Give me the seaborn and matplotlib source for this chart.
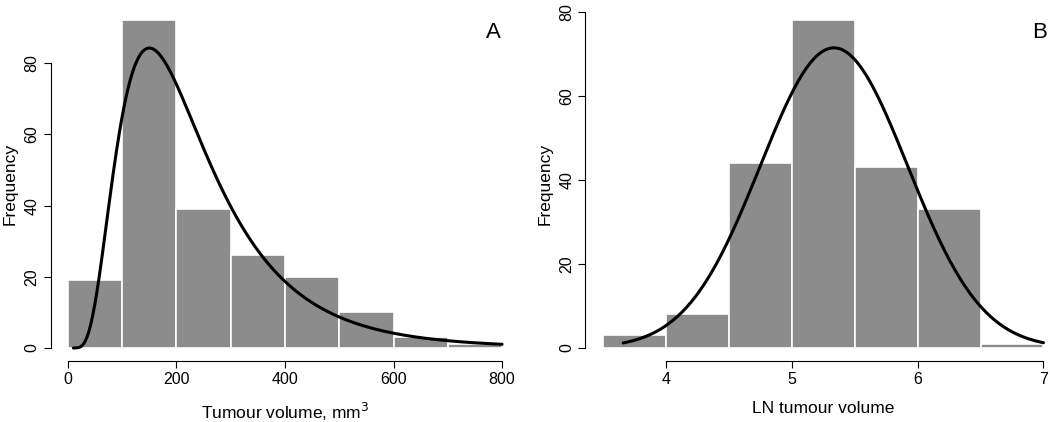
import numpy as np
import seaborn as sns
import matplotlib.pyplot as plt

sns.set_style("white")
plt.rcParams['font.family'] = ['Liberation Sans', 'DejaVu Sans']
plt.rcParams['text.color'] = 'black'
plt.rcParams['axes.labelcolor'] = 'black'
plt.rcParams['xtick.color'] = 'black'
plt.rcParams['ytick.color'] = 'black'

###Panel A: tumour volume (mm3)
vol_edges = [0, 100, 200, 300, 400, 500, 600, 700, 800]
vol_counts = [19, 92, 39, 26, 20, 10, 3, 1]
vol_ticks = [0, 200, 400, 600, 800]
vol_yticks = [0, 20, 40, 60, 80]
# fitted log-normal (meanlog, sdlog) and curve range
vol_meanlog, vol_sdlog = 5.33, 0.565
vol_curve_range = (10, 800)

###Panel B: log tumour volume
ln_edges = [3.5, 4.0, 4.5, 5.0, 5.5, 6.0, 6.5, 7.0]
ln_counts = [3, 8, 44, 78, 43, 33, 1]
ln_ticks = [4, 5, 6, 7]
ln_yticks = [0, 20, 40, 60, 80]
# fitted normal (mean, sd) and curve range
ln_mean, ln_sd = 5.335, 0.586
ln_curve_range = (3.66, 7.0)

bar_col = "#8c8c8c"


def lognorm_pdf(x, mu, s):
    return np.exp(-(np.log(x) - mu) ** 2 / (2 * s ** 2)) / (x * s * np.sqrt(2 * np.pi))


def norm_pdf(x, mu, s):
    return np.exp(-(x - mu) ** 2 / (2 * s ** 2)) / (s * np.sqrt(2 * np.pi))


def r_style(ax, xt, yt, xlim, ylim):
    ax.set_xlim(*xlim)
    ax.set_ylim(*ylim)
    ax.set_xticks(xt)
    ax.set_yticks(yt)
    ax.set_xticklabels([str(t) for t in xt], fontsize=11.5)
    ax.set_yticklabels([str(t) for t in yt], fontsize=11.5, rotation=90, va="center")
    for s in ["top", "right"]:
        ax.spines[s].set_visible(False)
    ax.spines["left"].set_bounds(yt[0], yt[-1])
    ax.spines["bottom"].set_bounds(xt[0], xt[-1])
    for s in ["left", "bottom"]:
        ax.spines[s].set_color("black")
        ax.spines[s].set_linewidth(0.8)
    ax.tick_params(axis="both", direction="out", length=5, width=0.8, color="black",
                   left=True, bottom=True, pad=3)
    ax.set_ylabel("Frequency", fontsize=12.5, labelpad=5)


fig = plt.figure(figsize=(10.5, 4.22), dpi=100)

##Left panel
axA = fig.add_axes([0.0482, 0.1443, 0.4465, 0.8382])
mids = [(a + b) / 2 for a, b in zip(vol_edges[:-1], vol_edges[1:])]
sns.histplot(x=mids, weights=vol_counts, bins=vol_edges, ax=axA, color=bar_col,
             alpha=1, edgecolor="white", linewidth=1.2)
bw = vol_edges[1] - vol_edges[0]
xc = np.linspace(vol_curve_range[0], vol_curve_range[1], 400)
yc = lognorm_pdf(xc, vol_meanlog, vol_sdlog) * sum(vol_counts) * bw
sns.lineplot(x=xc, y=yc, ax=axA, color="black", linewidth=2.2, sort=False)
r_style(axA, vol_ticks, vol_yticks, (-32, 832), (-3.68, 95.68))
axA.set_xlabel("Tumour volume, mm$^3$", fontsize=12.5, labelpad=10)
axA.text(0.945, 0.93, "A", transform=axA.transAxes, fontsize=16, ha="center", va="center")

##Right panel
axB = fig.add_axes([0.5576, 0.1443, 0.4529, 0.8382])
mids = [(a + b) / 2 for a, b in zip(ln_edges[:-1], ln_edges[1:])]
sns.histplot(x=mids, weights=ln_counts, bins=ln_edges, ax=axB, color=bar_col,
             alpha=1, edgecolor="white", linewidth=1.2)
bw = ln_edges[1] - ln_edges[0]
xc = np.linspace(ln_curve_range[0], ln_curve_range[1], 400)
yc = norm_pdf(xc, ln_mean, ln_sd) * sum(ln_counts) * bw
sns.lineplot(x=xc, y=yc, ax=axB, color="black", linewidth=2.2, sort=False)
r_style(axB, ln_ticks, ln_yticks, (3.36, 7.14), (-3.12, 81.12))
axB.set_xlabel("LN tumour volume", fontsize=12.5, labelpad=10)
axB.text(0.955, 0.93, "B", transform=axB.transAxes, fontsize=16, ha="center", va="center")

plt.savefig("out.png", dpi=100)
